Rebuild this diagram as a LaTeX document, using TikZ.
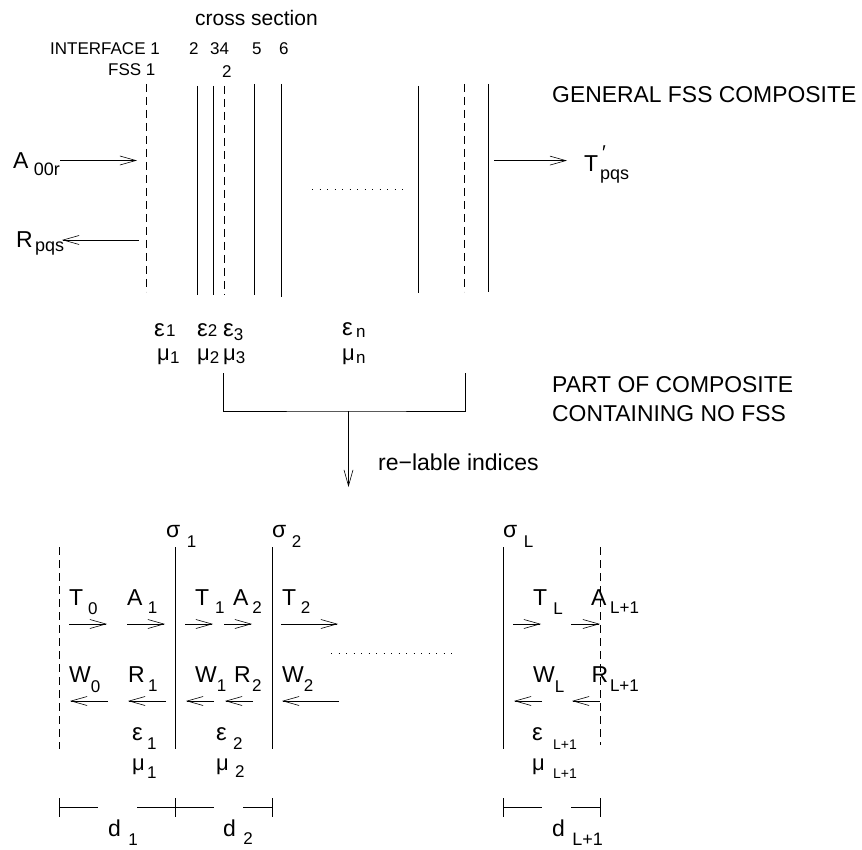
\documentclass[tikz,border=0pt]{standalone}
\usepackage{fontspec}
\setmainfont{Liberation Sans}
\usetikzlibrary{arrows.meta}
\newcommand{\symsize}{\fontsize{23}{26}\selectfont}
\newcommand{\lowsub}[4][17]{\hspace{#2pt}\raisebox{-#3pt}{\fontsize{#1}{20}\selectfont #4}}
\newcommand{\epsglyph}{{\fontsize{24}{26}\selectfont ε}}
\newcommand{\muglyph}{{\fontsize{22}{26}\selectfont μ}}
\tikzset{
    sym/.style={anchor=base west, inner sep=0pt, font=\symsize},
    caption/.style={anchor=base west, inner sep=0pt, font=\fontsize{22.9}{26}\selectfont},
    small label/.style={anchor=base west, inner sep=0pt, font=\fontsize{17}{20}\selectfont},
    plate/.style={line width=0.8pt},
    fss plate/.style={line width=0.8pt, dash pattern=on 8pt off 5pt},
    wave/.style={line width=0.7pt, -{Straight Barb[length=16pt,width=9pt,line width=0.6pt]}},
    dots row/.style={line width=0.7pt, dash pattern=on 1pt off 6.5pt},
}
\begin{document}
\begin{tikzpicture}[x=1pt,y=-1pt]
    \useasboundingbox (0,0) rectangle (862,850);

    % titres
    \node[anchor=base west, inner sep=0pt, font=\fontsize{21}{24}\selectfont] (crosstitle) at (195,26) {cross section};
    \node[caption] (general) at (552,103) {GENERAL FSS COMPOSITE};
    \node[caption] (part) at (552,392) {PART OF COMPOSITE};
    \node[caption] (nofss) at (552,421) {CONTAINING NO FSS};
    \node[anchor=base west, inner sep=0pt, font=\fontsize{23}{26}\selectfont] (relable) at (378,470) {re−lable indices};

    % interface numbers
    \node[small label] (interface) at (50,55) {INTERFACE 1};
    \foreach \name/\x/\txt in {ifb/189/2, ifc/210/34, ifd/252/5, ife/279/6}
        \node[small label] (\name) at (\x,55) {\txt};
    \node[small label] (fssa) at (108,76) {FSS 1};
    \node[small label] (fssb) at (222,78) {2};

    % composite
    \foreach \x/\ya/\yb in {197/86/295, 213.5/86/295, 254.5/84/295, 281.5/84/297, 418.5/86/293, 488/84/292}
        \draw[plate] (\x,\ya) -- (\x,\yb);
    \foreach \x/\ya/\yb in {146/84/292, 224/86/295, 464.7/84/292}
        \draw[fss plate] (\x,\ya) -- (\x,\yb);
    \draw[dots row] (312,189.5) -- (407,189.5);

    \node[sym] (incident) at (13,169) {A\lowsub[18]{5.3}{7}{00r}};
    \node[sym] (reflected) at (16,248) {R\lowsub[18]{2.2}{4}{pqs}};
    \node[sym] (transmitted) at (584,172) {T\lowsub[18]{1.9}{8}{pqs}};
    \node[inner sep=0pt, font=\fontsize{20}{22}\selectfont] (tprime) at (604,153) {′};
    \foreach \name/\xa/\xb/\y in {a/60/137/160.5, b/138.5/62/240, c/494/567/160.6} {
        \coordinate (\name s) at (\xa,\y);
        \coordinate (\name e) at (\xb,\y);
        \draw[wave] (\name s) -- (\name e);
    }

    \foreach \name/\x/\y/\gp/\dn/\sub in {
        ea/154/337/1.3/0/1, eb/197/337/0/0/2, ec/223/337/0/4/3, en/342/335/3.3/2/n}
        \node[sym] (\name) at (\x,\y) {\epsglyph\lowsub{\gp}{\dn}{\sub}};
    \foreach \name/\x/\y/\gp/\dn/\sub in {
        ma/157/360/0.3/3/1, mb/197/360/0/3/2, mc/223/360/0/3/3, mn/342/360/1.3/3/n}
        \node[sym] (\name) at (\x,\y) {\muglyph\lowsub{\gp}{\dn}{\sub}};

    % bracket
    \coordinate (bra) at (223,373);
    \coordinate (brb) at (465,373);
    \coordinate (brc) at (348.5,411);
    \coordinate (brd) at (348.5,487);
    \draw[plate] (bra) |- (brc) -| (brb);
    \draw[wave] (brc) -- (brd);

    % lower part
    \foreach \x/\yb in {175/749, 272/749, 503.5/749}
        \draw[plate] (\x,547) -- (\x,\yb);
    \foreach \x/\yb in {59.5/749, 600/745}
        \draw[fss plate] (\x,547) -- (\x,\yb);
    \draw[dots row] (331,653) -- (453,653);

    \foreach \name/\x/\gp/\sub in {sa/166/6.4/1, sb/272/5.4/2, sc/503/6.4/L}
        \node[sym] (\name) at (\x,537) {σ\lowsub{\gp}{10}{\sub}};

    \foreach \name/\xa/\xb in {fa/69/107, fb/127/165, fc/185/213, fd/224/252, fe/281/338, ff/513/541, fg/571/600} {
        \coordinate (\name s) at (\xa,624);
        \coordinate (\name e) at (\xb,624);
        \draw[wave] (\name s) -- (\name e);
    }
    \foreach \name/\xa/\xb in {ga/108/70, gb/166/128, gc/214/186, gd/253/225, ge/339/282, gf/542/514, gg/600/572} {
        \coordinate (\name s) at (\xa,701);
        \coordinate (\name e) at (\xb,701);
        \draw[wave] (\name s) -- (\name e);
    }

    \foreach \name/\x/\y/\lett/\gp/\dn/\sub in {
        tzero/69/605/T/5/9/0, aone/127/605/A/5.3/8/1, tone/195/605/T/5.9/8/1, atwo/233/605/A/3.8/8/2,
        ttwo/282/605/T/4.7/8/2, tl/533/605/T/6/9/L, al/591/605/A/3.6/8/L+1,
        wzero/69/682/W/0/10/0, rone/128/682/R/3.2/9/1, wone/195/682/W/0/9/1, rtwo/234/682/R/1.2/9/2,
        wtwo/282/682/W/0/9/2, wl/533/682/W/0/10/L, rl/591.5/682/R/1.7/9/L+1,
        done/108/836/d/7.4/9/1, dtwo/223/836/d/7.4/8/2}
        \node[sym] (\name) at (\x,\y) {\lett\lowsub{\gp}{\dn}{\sub}};
    \node[sym] (eone) at (132,740) {\epsglyph\lowsub{4.3}{9}{1}};
    \node[sym] (etwo) at (216,740) {\epsglyph\lowsub{6.3}{9}{2}};
    \node[sym] (mone) at (132,770) {\muglyph\lowsub{2.3}{8}{1}};
    \node[sym] (mtwo) at (216,770) {\muglyph\lowsub{6.3}{7}{2}};
    \node[sym] (el) at (532,740) {\epsglyph\lowsub[14]{10.3}{9}{L+1}};
    \node[sym] (ml) at (532,770) {\muglyph\lowsub[14]{8.3}{8}{L+1}};
    \node[sym] (dl) at (552,836) {d\lowsub[18]{7.4}{9}{L+1}};

    % thicknesses
    \foreach \x in {59.5, 175, 272, 503.5, 600}
        \draw[plate] (\x,798) -- (\x,817);
    \foreach \xa/\xb in {59.5/98, 137/175, 175/214, 243/272, 503.5/542, 571/600}
        \draw[plate] (\xa,807) -- (\xb,807);
\end{tikzpicture}
\end{document}
